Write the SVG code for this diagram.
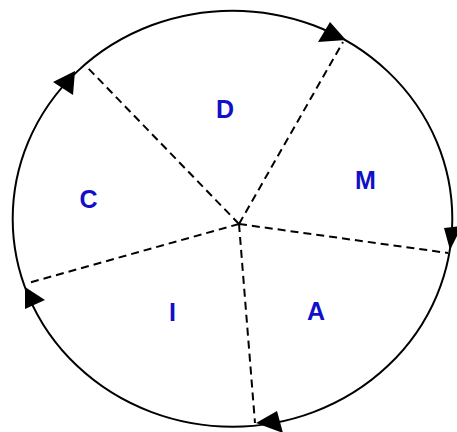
<svg xmlns="http://www.w3.org/2000/svg" width="457" height="432" viewBox="0 0 457 432">
<style>
.ring{fill:none;stroke:#000;stroke-width:2}
.spoke{fill:none;stroke:#000;stroke-width:2;stroke-dasharray:8 5}
.head{fill:#000}
.lbl{font-family:"Liberation Sans",Arial,sans-serif;font-weight:bold;font-size:25px;fill:#1010c8;text-anchor:middle}
</style>
<rect width="457" height="432" fill="#fff"/>
<g id="cycle">
<ellipse class="ring" cx="232.5" cy="218.7" rx="219.8" ry="208"/>
</g>
<g id="connectors">
<line class="spoke" x1="239" y1="224" x2="86" y2="66"/>
<line class="spoke" x1="239" y1="224" x2="343" y2="42"/>
<line class="spoke" x1="239" y1="224" x2="448" y2="253"/>
<line class="spoke" x1="239" y1="224" x2="255" y2="423"/>
<line class="spoke" x1="239" y1="224" x2="28" y2="283"/>
<polygon class="head" points="75,71 53,82 73,95"/>
<polygon class="head" points="346,40 330,22 318,42"/>
<polygon class="head" points="450,250 444,228 462,226"/>
<polygon class="head" points="256,423 277,411 283,433"/>
<polygon class="head" points="25,287 25,309 45,300"/>
</g>
<g id="node-D"><text class="lbl" x="225" y="118">D</text></g>
<g id="node-M"><text class="lbl" x="365.5" y="189">M</text></g>
<g id="node-C"><text class="lbl" x="88.5" y="208">C</text></g>
<g id="node-I"><text class="lbl" x="172.5" y="321">I</text></g>
<g id="node-A"><text class="lbl" x="316" y="320">A</text></g>
</svg>
